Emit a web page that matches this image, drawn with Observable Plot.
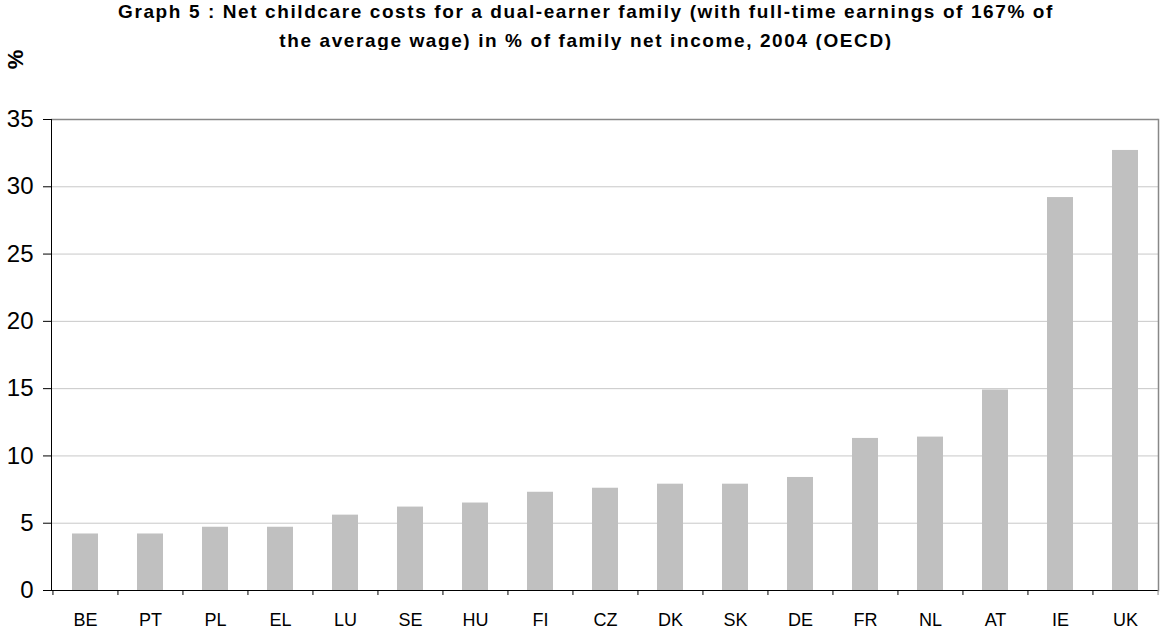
<!DOCTYPE html>
<html>
<head>
<meta charset="utf-8">
<script src="https://cdn.jsdelivr.net/npm/d3@7"></script>
<script src="https://cdn.jsdelivr.net/npm/@observablehq/plot@0.6"></script>
<style>
  html, body { margin: 0; padding: 0; background: #fff; }
  #wrap { width: 1160px; height: 632px; position: relative; overflow: hidden; }
  #title { position: absolute; left: 6px; width: 1160px; top: -3px; text-align: center;
           font-family: "Liberation Sans", Arial, sans-serif; font-weight: bold; font-size: 19px;
           letter-spacing: 1.6px; line-height: 29px; color: #000; }
  #chart { position: absolute; left: 0; top: 50px; }
  #chart svg { display: block; }
</style>
</head>
<body>
<div id="wrap">
  <div id="title">
    <div>Graph 5 : Net childcare costs for a dual-earner family (with full-time earnings of 167% of</div>
    <div>the average wage) in % of family net income, 2004 (OECD)</div>
  </div>
  <div id="chart"></div>
</div>
<script>
const countries = ["BE","PT","PL","EL","LU","SE","HU","FI","CZ","DK","SK","DE","FR","NL","AT","IE","UK"];
const costs = [4.2, 4.2, 4.7, 4.7, 5.6, 6.2, 6.5, 7.3, 7.6, 7.9, 7.9, 8.4, 11.3, 11.4, 14.9, 29.2, 32.7];
const yTicks = [0, 5, 10, 15, 20, 25, 30, 35];
const gridTicks = [5, 10, 15, 20, 25, 30];
const unitLabel = ["%"];

const data = countries.map((c, i) => ({country: c, value: costs[i]}));

const W = 1160, H = 582, mL = 51, mR = 2, mT = 69, mB = 42;
const half = (W - mL - mR) / countries.length / 2;

const chart = Plot.plot({
  width: W,
  height: H,
  marginLeft: mL,
  marginRight: mR,
  marginTop: mT,
  marginBottom: mB,
  style: {fontFamily: "Liberation Sans, Arial, sans-serif", color: "#000", background: "#fff", overflow: "visible"},
  x: {domain: countries, paddingInner: 0.6, paddingOuter: 0.3, label: null},
  y: {domain: [0, 35], label: null},
  marks: [
    Plot.ruleY(gridTicks, {stroke: "#c8c8c8", strokeWidth: 1}),
    Plot.ruleY([35], {stroke: "#888", strokeWidth: 1.5}),
    Plot.frame({anchor: "right", stroke: "#888", strokeWidth: 1.5}),
    Plot.barY(data, {x: "country", y: "value", fill: "#c0c0c0"}),
    Plot.frame({anchor: "left", stroke: "#000", strokeWidth: 1}),
    Plot.ruleY([0], {stroke: "#000", strokeWidth: 1}),
    Plot.ruleX(countries, {x: d => d, y1: 0, y2: 0, dx: -half, insetBottom: -5, stroke: "#000"}),
    Plot.ruleX(countries.slice(-1), {x: d => d, y1: 0, y2: 0, dx: half, insetBottom: -5, stroke: "#888"}),
    Plot.axisY({ticks: yTicks, tickSize: 8, tickPadding: 10, fontSize: 24, label: null, tickFormat: d => String(d)}),
    Plot.axisX({tickSize: 0, tickPadding: 23, fontSize: 18, label: null}),
    Plot.text(unitLabel, {text: d => d, frameAnchor: "top-left", dx: -36, dy: -60, rotate: -90,
      textAnchor: "middle", lineAnchor: "middle", fontWeight: "bold", fontSize: 22})
  ]
});
document.getElementById("chart").appendChild(chart);
</script>
</body>
</html>
